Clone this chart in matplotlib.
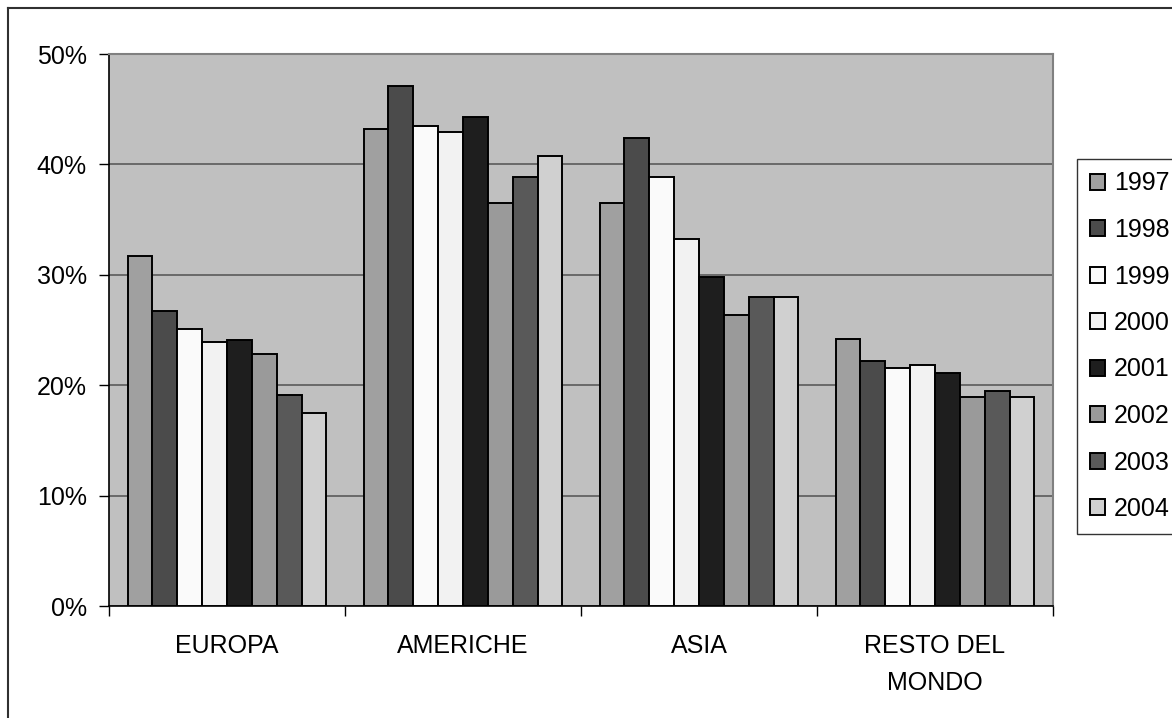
import numpy as np
import matplotlib
matplotlib.use("Agg")
import matplotlib.pyplot as plt
from matplotlib.patches import Patch
from matplotlib.lines import Line2D

plt.rcParams['font.family'] = ['Liberation Sans', 'DejaVu Sans']

# quota per area geografica, anni 1997-2004
regions = ['EUROPA', 'AMERICHE', 'ASIA', 'RESTO DEL\nMONDO']
years = ['1997', '1998', '1999', '2000', '2001', '2002', '2003', '2004']
europa = [31.7, 26.7, 25.1, 23.9, 24.1, 22.8, 19.1, 17.5]
americhe = [43.2, 47.1, 43.5, 42.9, 44.3, 36.5, 38.9, 40.8]
asia = [36.5, 42.4, 38.9, 33.2, 29.8, 26.4, 28.0, 28.0]
resto = [24.2, 22.2, 21.6, 21.8, 21.1, 18.9, 19.5, 18.9]
colors = ['#a0a0a0', '#4b4b4b', '#fafafa', '#f2f2f2', '#1e1e1e', '#9a9a9a', '#595959', '#d0d0d0']

values = np.array([europa, americhe, asia, resto])  # region x year

fig = plt.figure(figsize=(11.72, 7.18), dpi=100)
ax = fig.add_axes([109/1172, 1 - 606/718, (1053 - 109)/1172, (606 - 54)/718])
ax.set_facecolor('#c0c0c0')

n = len(years)
w = 1 / (n + 1.5)
centers = np.arange(len(regions)) + 0.5
for j in range(n):
    ax.bar(centers + (j - (n - 1) / 2) * w, values[:, j], width=w,
           color=colors[j], edgecolor='black', linewidth=1.4, zorder=3)

ax.set_xlim(0, 4)
ax.set_ylim(0, 50)
ax.set_yticks(np.arange(0, 51, 10))
ax.set_yticklabels([f'{v}%' for v in range(0, 51, 10)], fontsize=18)
ax.yaxis.grid(True, color='#5a5a5a', linewidth=1.2, zorder=1)

ax.set_xticks(np.arange(0, 5))
ax.set_xticklabels([])
ax.set_xticks(centers, minor=True)
ax.set_xticklabels(regions, minor=True, fontsize=18, linespacing=1.7)
ax.tick_params(axis='x', which='major', direction='out', length=7, width=1, color='black')
ax.tick_params(axis='x', which='minor', length=0, pad=20)
ax.tick_params(axis='y', direction='out', length=7, width=1, pad=9)

for side in ['top', 'right']:
    ax.spines[side].set_color('#808080')
    ax.spines[side].set_linewidth(1.5)
for side in ['left', 'bottom']:
    ax.spines[side].set_color('black')
    ax.spines[side].set_linewidth(1.2)

handles = [Patch(facecolor=c, edgecolor='black', linewidth=1.4) for c in colors]
leg = fig.legend(handles, years, loc='upper left',
                 bbox_to_anchor=(1077/1172, 1 - 159/718), fontsize=18,
                 frameon=True, fancybox=False, edgecolor='black',
                 handlelength=0.62, handleheight=0.62, handletextpad=0.35,
                 labelspacing=0.9, borderpad=0.5, borderaxespad=0)
leg.get_frame().set_linewidth(1.0)

# chart area border (top and left edges)
fig.add_artist(Line2D([8/1172, 1], [1 - 8/718, 1 - 8/718], color='#303030', linewidth=1.5,
                      transform=fig.transFigure))
fig.add_artist(Line2D([8/1172, 8/1172], [0, 1 - 8/718], color='#303030', linewidth=1.5,
                      transform=fig.transFigure))

fig.savefig('out.png', dpi=100)
